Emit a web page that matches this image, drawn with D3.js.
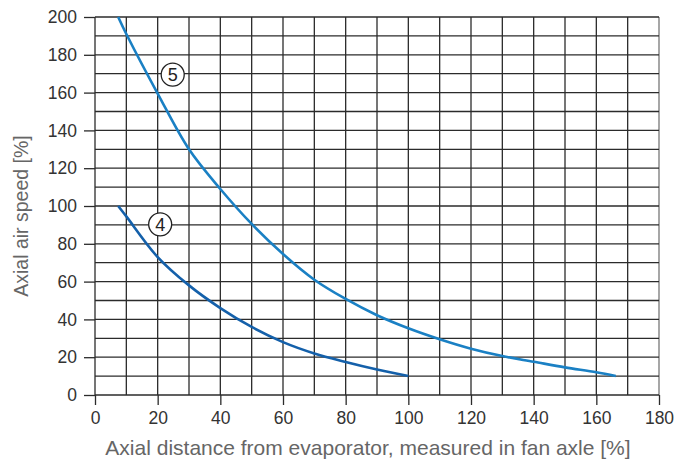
<!DOCTYPE html>
<html><head><meta charset="utf-8">
<script src="https://cdn.jsdelivr.net/npm/d3@7"></script>
<style>body{margin:0;background:#fff}svg{display:block}</style>
</head><body>
<script>
// Data
const x5 = [7.4, 10, 20, 30, 40, 50, 60, 70, 80, 90, 100, 110, 120, 130, 140, 150, 160, 166.2];
const y5 = [200, 191, 159.5, 130, 109, 90.5, 74.6, 61, 50.8, 42.2, 35.3, 29.5, 24.5, 20.6, 17.6, 14.6, 12, 10];
const x4 = [7.4, 10, 20, 30, 40, 50, 60, 70, 80, 90, 100];
const y4 = [100, 94.5, 73, 58, 46, 36, 28, 22, 17.5, 13.5, 10];
const xTicks = [0, 20, 40, 60, 80, 100, 120, 140, 160, 180];
const yTicks = [0, 20, 40, 60, 80, 100, 120, 140, 160, 180, 200];
const labelText = ["5", "4"];
const labelX = [24.8, 20.8];
const labelY = [169.5, 90.3];
const xTitle = "Axial distance from evaporator, measured in fan axle [%]";
const yTitle = "Axial air speed [%]";

const W = 689, H = 469;
const m = {left: 95, right: 30, top: 17, bottom: 74};
const svg = d3.select("body").append("svg").attr("width", W).attr("height", H);
const x = d3.scaleLinear().domain([0, 180]).range([m.left, W - m.right]);
const y = d3.scaleLinear().domain([0, 200]).range([H - m.bottom, m.top]);

const gridColor = "#2b2b2b";
const font = "'Liberation Sans', Arial, Helvetica, sans-serif";
const g = svg.append("g");
g.selectAll("line.vx").data(d3.range(0, 181, 10)).join("line")
  .attr("x1", d => x(d)).attr("x2", d => x(d)).attr("y1", y(0)).attr("y2", y(200))
  .attr("stroke", d => d === 180 ? "#777" : gridColor).attr("stroke-width", 1.3);
g.selectAll("line.hy").data(d3.range(0, 201, 10)).join("line")
  .attr("y1", d => y(d)).attr("y2", d => y(d)).attr("x1", x(0)).attr("x2", x(180))
  .attr("stroke", gridColor).attr("stroke-width", 1.3);

// axes
const xAxis = d3.axisBottom(x).tickValues(xTicks).tickSize(10).tickPadding(7);
const yAxis = d3.axisLeft(y).tickValues(yTicks).tickSize(11).tickPadding(7);
const gx = svg.append("g").attr("transform", `translate(0,${y(0)})`).call(xAxis);
const gy = svg.append("g").attr("transform", `translate(${x(0)},0)`).call(yAxis);
[gx, gy].forEach(a => {
  a.select(".domain").remove();
  a.selectAll(".tick line").attr("stroke", gridColor).attr("stroke-width", 1.3);
  a.selectAll(".tick text").attr("fill", "#333")
    .style("font-family", "'Liberation Sans Narrow', 'Arial Narrow', 'Liberation Sans', sans-serif")
    .style("font-size", "17.5px");
});

// curves
const line = d3.line().x(d => x(d[0])).y(d => y(d[1])).curve(d3.curveCatmullRom);
svg.append("path").datum(d3.zip(x5, y5)).attr("d", line)
  .attr("fill", "none").attr("stroke", "#1a80c4").attr("stroke-width", 2.6);
svg.append("path").datum(d3.zip(x4, y4)).attr("d", line)
  .attr("fill", "none").attr("stroke", "#1460aa").attr("stroke-width", 2.6);

// circled labels
labelText.forEach((t, i) => {
  const cx = x(labelX[i]), cy = y(labelY[i]);
  svg.append("circle").attr("cx", cx).attr("cy", cy).attr("r", 11.5)
    .attr("fill", "#fff").attr("stroke", "#222").attr("stroke-width", 1.3);
  svg.append("text").attr("x", cx).attr("y", cy).attr("dy", "0.36em")
    .attr("text-anchor", "middle").attr("fill", "#222")
    .style("font-family", font).style("font-size", "18px").text(t);
});

// titles
svg.append("text").attr("x", 368).attr("y", 455)
  .attr("text-anchor", "middle").attr("fill", "#666")
  .style("font-family", font).style("font-size", "21px").text(xTitle);
svg.append("text").attr("transform", `translate(28,216) rotate(-90)`)
  .attr("text-anchor", "middle").attr("fill", "#666")
  .style("font-family", font).style("font-size", "19.5px").text(yTitle);
</script>
</body></html>
